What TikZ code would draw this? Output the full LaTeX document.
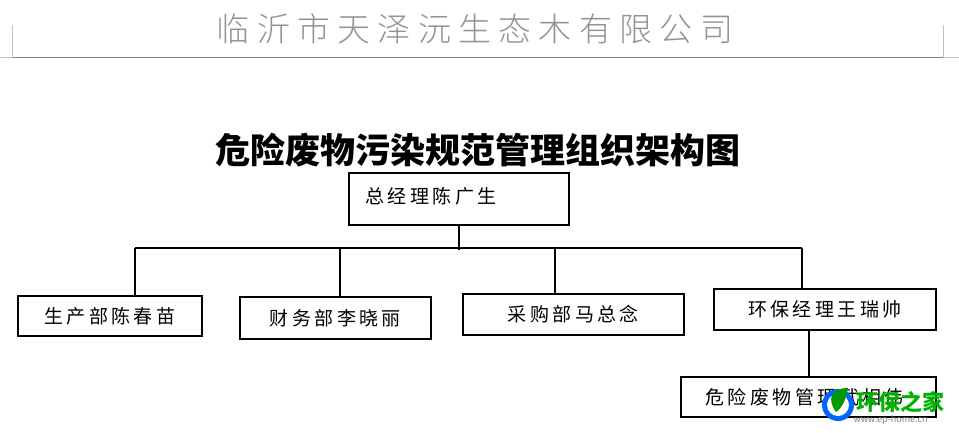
\documentclass[tikz,border=0pt]{standalone}
\usepackage{fontspec}
\newfontfamily\cjk[LetterSpace=18]{Noto Sans CJK SC}
\newfontfamily\cjkh[LetterSpace=22]{Noto Sans CJK SC Light}
\newfontfamily\cjkt{Noto Sans CJK SC}
\begin{document}
\begin{tikzpicture}[x=1pt,y=-1pt,
  box/.style={draw,line width=1.6pt,anchor=north west,inner sep=0pt},
  lbl/.style={font=\cjk\fontsize{19}{21}\selectfont},
  ln/.style={line width=1.6pt}]
\useasboundingbox (0,0) rectangle (959,432);
% header
\node[font=\cjkh\fontsize{33}{36}\selectfont,text=gray!85] (hdr) at (475,29) {临沂市天泽沅生态木有限公司};
\draw[gray,line width=1pt] (10,57) -- (945,57);
\draw[gray!50,line width=0.5pt] (12,25) -- (12,57) -- (0,57);
\draw[gray!50,line width=0.5pt] (943,25) -- (943,57) -- (959,57);
% title
\node[font=\cjkt\bfseries\fontsize{35}{38}\selectfont] (title) at (478,150) {危险废物污染规范管理组织架构图};
% boxes
\node[box,minimum width=220pt,minimum height=52pt] (gm) at (348,172) {};
\node[lbl,anchor=west] at (362,196) {总经理陈广生};
\node[box,minimum width=184pt,minimum height=40pt] (b1) at (17,295) {};
\node[lbl] at (b1.center) {生产部陈春苗};
\node[box,minimum width=191pt,minimum height=42pt] (b2) at (239,296) {};
\node[lbl] at (b2.center) {财务部李晓丽};
\node[box,minimum width=221pt,minimum height=41pt] (b3) at (462,293) {};
\node[lbl] at (b3.center) {采购部马总念};
\node[box,minimum width=222pt,minimum height=41pt] (b4) at (713,288) {};
\node[lbl] at (b4.center) {环保经理王瑞帅};
\node[box,minimum width=255pt,minimum height=40pt] (b5) at (680,376) {};
\node[lbl,anchor=west] at (702,397) {危险废物管理武相伟};
% connectors
\coordinate (bus) at (459,248);
\draw[ln] (gm.south -| bus) -- (459,250);
\draw[ln] (135,248) -- (802,248);
\draw[ln] (135,248) -- (b1.north -| 135,0);
\draw[ln] (340,248) -- (b2.north -| 340,0);
\draw[ln] (555,248) -- (b3.north -| 555,0);
\draw[ln] (802,248) -- (b4.north -| 802,0);
\draw[ln] (b4.south -| 809,0) -- (b5.north -| 809,0);
% watermark
\fill[blue!60!cyan] (838,405) circle (16pt);
\fill[white] (838,405) circle (11pt);
\fill[green!60!black] (836,412) .. controls (826,398) and (832,388) .. (848,388) .. controls (846,400) and (842,408) .. (836,412);
\node[font=\cjkt\bfseries\fontsize{22}{24}\selectfont,text=green!70!black,anchor=west] (wm) at (853,402) {环保之家};
\node[font=\cjkt\fontsize{9}{10}\selectfont,text=gray,anchor=west] (url) at (850,420) {www.ep-home.cn};
\end{tikzpicture}
\end{document}
